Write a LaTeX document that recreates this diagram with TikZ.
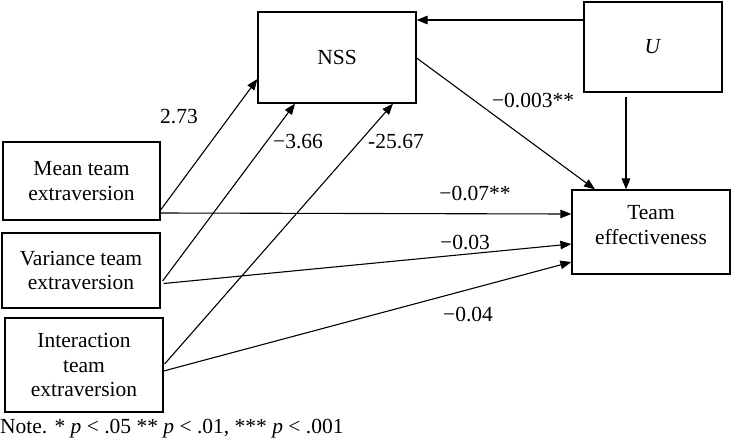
\documentclass[tikz,border=0pt]{standalone}
\usepackage{fontspec}
\setmainfont{Liberation Serif}
\usetikzlibrary{arrows.meta}
\begin{document}
\begin{tikzpicture}[x=1pt,y=-1pt,
  every node/.style={font=\fontsize{21.5pt}{24.5pt}\selectfont, inner sep=0pt},
  box/.style={draw, line width=1.2pt, align=center},
  conn/.style={line width=1.1pt, -{Triangle[length=11pt,width=8.5pt]}},
  lab/.style={anchor=center}]
\useasboundingbox (0,0) rectangle (737,440);
% boxes
\node[box, minimum width=157pt, minimum height=78pt] (mean) at (81.5,181) {Mean team\\extraversion};
\node[box, minimum width=158pt, minimum height=75pt] (var) at (81,270.5) {Variance team\\extraversion};
\node[box, minimum width=158pt, minimum height=94pt] (inter) at (84,365) {Interaction\\team\\extraversion};
\node[box, minimum width=158pt, minimum height=91pt] (nss) at (337,57.5) {NSS};
\node[box, minimum width=138pt, minimum height=90pt] (u) at (653,47) {\textit{U}};
\node[box, minimum width=158pt, minimum height=84pt,
  label={[yshift=7pt, align=center, font=\fontsize{21.5pt}{24.5pt}\selectfont]center:Team\\effectiveness}] (te) at (651,232) {};
% connectors
\draw[conn] ([yshift=27pt]u.west) -- ([yshift=37.5pt]nss.east);
\draw[conn] ([xshift=-27pt,yshift=-4pt]u.south) -- ([xshift=-25pt]te.north);
\draw[conn] ([yshift=-0.5pt]nss.east) -- ([xshift=-56pt]te.north);
\draw[conn] ([yshift=-29pt]mean.east) -- ([yshift=-21.5pt]nss.west);
\draw[conn] ([yshift=-32pt]mean.east) -- ([yshift=18pt]te.west);
\draw[conn] ([xshift=2pt,yshift=-10.5pt]var.east) -- ([xshift=-42pt]nss.south);
\draw[conn] ([xshift=3pt,yshift=-13pt]var.east) -- ([yshift=-12pt]te.west);
\draw[conn] ([xshift=1pt,yshift=1pt]inter.east) -- ([xshift=56pt]nss.south);
\draw[conn] ([yshift=-6pt]inter.east) -- ([yshift=-30pt]te.west);
% labels
\node[lab] (l1) at (179,117) {2.73};
\node[lab] (l2) at (298,142) {−3.66};
\node[lab] (l3) at (396,142) {-25.67};
\node[lab] (l4) at (533,100) {−0.003**};
\node[lab] (l5) at (475,193) {−0.07**};
\node[lab] (l6) at (465,242) {−0.03};
\node[lab] (l7) at (468,314) {−0.04};
\node[anchor=base west] (note) at (0,433) {Note. * \textit{p} {<} .05 ** \textit{p} {<} .01, *** \textit{p} {<} .001};
\end{tikzpicture}
\end{document}
